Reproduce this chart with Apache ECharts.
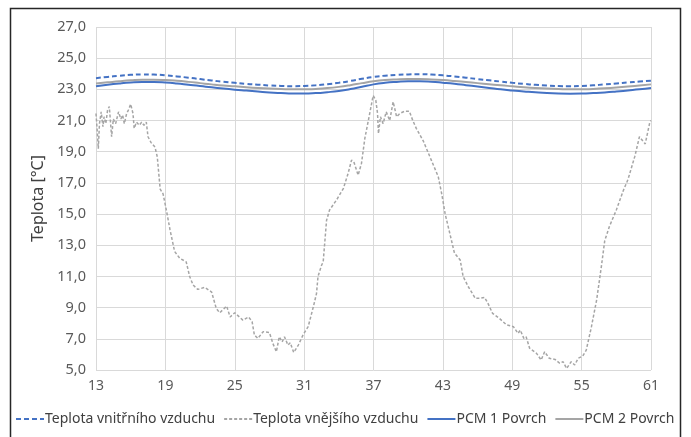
<!DOCTYPE html>
<html>
<head>
<meta charset="utf-8">
<script src="https://cdn.jsdelivr.net/npm/echarts@6/dist/echarts.min.js"></script>
<style>html,body{margin:0;padding:0;background:#fff}#c{width:691px;height:437px}</style>
</head>
<body>
<div id="c"></div>
<script>
// ---- data ----
const seriesNames = ['Teplota vnitřního vzduchu', 'Teplota vnějšího vzduchu', 'PCM 1 Povrch', 'PCM 2 Povrch'];
const hours = [13,14,15,16,17,18,19,20,21,22,23,24,25,26,27,28,29,30,31,32,33,34,35,36,37,38,39,40,41,42,43,44,45,46,47,48,49,50,51,52,53,54,55,56,57,58,59,60,61];
const indoorAir = [23.72,23.8,23.87,23.93,23.96,23.95,23.9,23.83,23.75,23.66,23.57,23.49,23.42,23.35,23.3,23.25,23.22,23.2,23.22,23.26,23.33,23.42,23.54,23.68,23.8,23.88,23.93,23.96,23.97,23.95,23.9,23.83,23.75,23.66,23.58,23.5,23.42,23.35,23.29,23.24,23.21,23.2,23.22,23.26,23.32,23.38,23.44,23.5,23.56];
const pcm1 = [23.2,23.3,23.38,23.44,23.47,23.47,23.44,23.38,23.3,23.22,23.13,23.05,22.98,22.92,22.86,22.8,22.76,22.73,22.73,22.76,22.82,22.9,23.02,23.17,23.32,23.42,23.48,23.52,23.52,23.49,23.43,23.36,23.27,23.18,23.09,23.0,22.93,22.87,22.81,22.76,22.73,22.72,22.73,22.76,22.8,22.86,22.93,23.0,23.08];
const pcm2 = [23.38,23.45,23.52,23.58,23.62,23.62,23.6,23.55,23.48,23.4,23.32,23.25,23.2,23.14,23.09,23.05,23.02,23.0,23.0,23.03,23.08,23.16,23.27,23.4,23.52,23.6,23.64,23.66,23.66,23.64,23.6,23.54,23.47,23.4,23.33,23.26,23.2,23.14,23.09,23.05,23.02,23.0,23.0,23.03,23.07,23.12,23.18,23.25,23.32];
const outdoorHours = [13.0,13.1,13.2,13.3,13.45,13.6,13.7,13.85,14.0,14.15,14.35,14.5,14.7,14.95,15.15,15.3,15.45,15.65,15.8,16.0,16.2,16.3,16.5,16.75,16.95,17.15,17.35,17.5,17.75,18.1,18.3,18.55,18.8,19.1,19.4,19.8,20.25,20.8,21.1,21.4,21.8,22.4,23.0,23.4,23.7,24.3,24.6,25.0,25.7,26.2,26.5,26.7,27.0,27.46,28.0,28.3,28.6,28.85,29.1,29.3,29.6,29.8,30.1,30.5,30.9,31.35,31.8,32.07,32.2,32.5,32.65,32.94,33.2,33.8,34.4,34.8,35.1,35.3,35.67,35.96,36.25,36.7,36.97,37.2,37.35,37.43,37.6,37.83,38.1,38.4,38.7,39.0,39.27,39.7,40.1,40.4,40.7,41.3,42.0,42.6,42.9,43.2,43.6,44.0,44.5,44.75,45.2,45.8,46.2,46.6,46.9,47.3,47.9,48.5,49.1,49.5,49.7,50.0,50.2,50.5,51.1,51.5,51.8,52.2,52.7,53.1,53.4,53.7,54.1,54.4,54.7,55.1,55.4,55.85,56.3,56.7,57.0,57.4,58.0,58.6,59.0,59.6,60.0,60.5,60.9,61.0];
const outdoorAir = [21.45,20.4,19.2,20.8,21.56,20.6,21.24,20.8,21.67,21.9,19.96,21.1,20.8,21.56,21.1,21.35,20.8,21.45,21.67,22.05,21.45,20.5,20.9,20.7,20.9,20.7,20.9,19.96,19.6,19.3,18.67,16.6,16.3,15.2,14.0,12.6,12.16,11.94,11.0,10.45,10.17,10.3,10.0,8.95,8.67,9.1,8.4,8.67,8.2,8.4,8.1,7.24,7.03,7.46,7.4,6.7,6.17,7.13,6.8,7.13,6.6,6.75,6.13,6.6,7.24,7.78,9.06,9.9,11.0,11.7,11.94,14.6,15.26,15.9,16.65,17.6,18.46,18.35,17.5,18.25,19.85,21.56,22.6,22.3,21.45,20.17,21.24,20.8,21.56,21.0,22.2,21.24,21.45,21.6,21.6,21.0,20.5,19.7,18.46,17.4,16.3,15.0,13.76,12.5,12.05,11.0,10.34,9.6,9.6,9.66,9.27,8.63,8.3,7.9,7.78,7.35,7.56,7.03,7.13,6.4,6.07,5.64,6.17,5.75,5.68,5.43,5.53,5.1,5.53,5.32,5.75,5.9,6.28,7.78,9.5,11.6,13.3,14.2,15.26,16.5,17.2,18.7,19.96,19.5,20.9,21.0];
const xTicks = {min: 13, max: 61, step: 6};
const yTicks = {min: 5, max: 27, step: 2};

const pair = (xs, ys) => xs.map((x, i) => [x, ys[i]]);
const FONT = '"Noto Sans", "Open Sans", sans-serif';
const chart = echarts.init(document.getElementById('c'), null, {renderer: 'canvas'});
chart.setOption({
  animation: false,
  backgroundColor: '#fff',
  grid: {left: 96, right: 40, top: 27, bottom: 67, containLabel: false},
  graphic: [{
    type: 'rect', silent: true, z: 100,
    shape: {x: 10.5, y: 8.5, width: 670, height: 440},
    style: {fill: 'none', stroke: '#262626', lineWidth: 1.5}
  }],
  xAxis: {
    type: 'value', min: xTicks.min, max: xTicks.max, interval: xTicks.step,
    axisLine: {show: false}, axisTick: {show: false},
    splitLine: {show: true, lineStyle: {color: '#D9D9D9', width: 1}},
    axisLabel: {color: '#595959', fontSize: 14, fontFamily: FONT, margin: 9}
  },
  yAxis: {
    type: 'value', min: yTicks.min, max: yTicks.max, interval: yTicks.step,
    name: 'Teplota [°C]', nameLocation: 'middle', nameGap: 50,
    nameTextStyle: {color: '#404040', fontSize: 16, fontFamily: FONT},
    axisLine: {show: false}, axisTick: {show: false},
    splitLine: {show: true, lineStyle: {color: '#D9D9D9', width: 1}},
    axisLabel: {color: '#595959', fontSize: 14.5, fontFamily: FONT, margin: 10,
      formatter: v => v.toFixed(1).replace('.', ',')}
  },
  legend: {
    bottom: 6, left: 10, itemWidth: 28, itemHeight: 10, itemGap: 8,
    itemStyle: {opacity: 0},
    textStyle: {color: '#404040', fontSize: 14, fontFamily: FONT, padding: [0, 0, 0, -4]},
    data: seriesNames
  },
  series: [
    {name: seriesNames[0], type: 'line', symbol: 'none', smooth: true,
     data: pair(hours, indoorAir), lineStyle: {color: '#4472C4', width: 2, type: [5, 3]}, itemStyle: {color: '#4472C4'}},
    {name: seriesNames[1], type: 'line', symbol: 'none',
     data: pair(outdoorHours, outdoorAir), lineStyle: {color: '#A5A5A5', width: 1.5, type: [3, 2]}, itemStyle: {color: '#A5A5A5'}},
    {name: seriesNames[2], type: 'line', symbol: 'none', smooth: true,
     data: pair(hours, pcm1), lineStyle: {color: '#4472C4', width: 2}, itemStyle: {color: '#4472C4'}},
    {name: seriesNames[3], type: 'line', symbol: 'none', smooth: true,
     data: pair(hours, pcm2), lineStyle: {color: '#A5A5A5', width: 2}, itemStyle: {color: '#A5A5A5'}}
  ]
});
</script>
</body>
</html>
